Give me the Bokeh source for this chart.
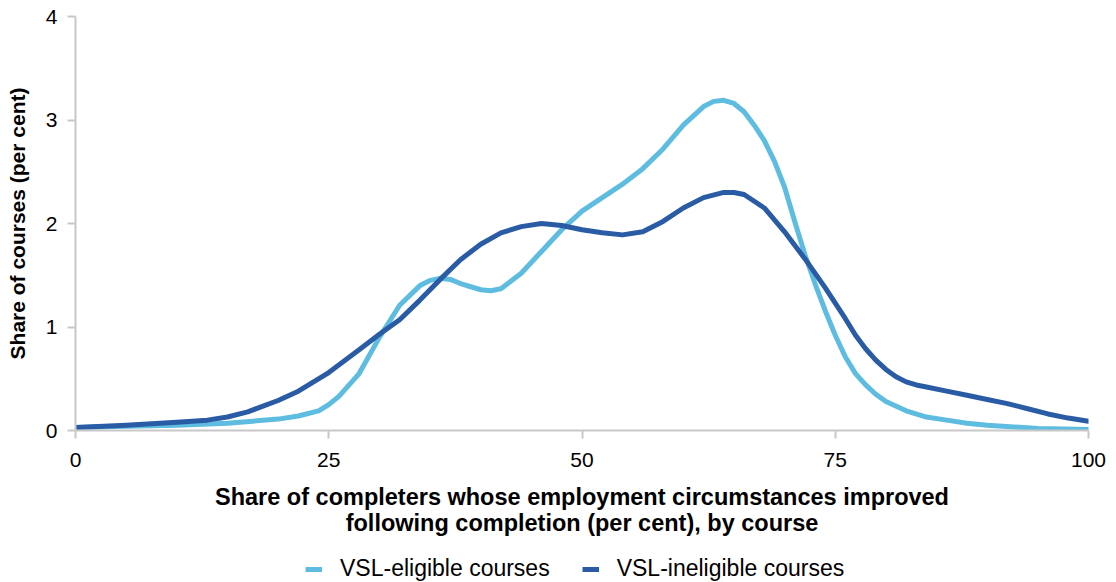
from bokeh.plotting import figure
from bokeh.layouts import column
from bokeh.models import Legend, LegendItem, FixedTicker, Range1d
from bokeh.embed import file_html
from bokeh.resources import INLINE

# Data
x_eligible = [0, 5, 10, 15, 20, 22, 24, 25, 26, 28, 30, 32, 34, 35, 36, 37, 38, 40, 41, 42,
              44, 46, 48, 50, 52, 54, 56, 58, 60, 62, 63, 64, 65, 66, 67, 68, 69, 70, 71,
              72, 73, 74, 75, 76, 77, 78, 79, 80, 82, 84, 86, 88, 90, 95, 100]
y_eligible = [0.03, 0.04, 0.05, 0.07, 0.11, 0.14, 0.19, 0.25, 0.33, 0.55, 0.90, 1.21, 1.40,
              1.45, 1.47, 1.46, 1.42, 1.36, 1.35, 1.37, 1.52, 1.73, 1.94, 2.12, 2.25, 2.38,
              2.53, 2.72, 2.95, 3.13, 3.18, 3.19, 3.16, 3.08, 2.95, 2.80, 2.60, 2.35, 2.02,
              1.70, 1.42, 1.16, 0.92, 0.71, 0.55, 0.44, 0.35, 0.28, 0.19, 0.13, 0.10, 0.07,
              0.05, 0.02, 0.01]

x_ineligible = [0, 5, 10, 13, 15, 17, 20, 22, 25, 28, 30, 32, 34, 36, 38, 40, 42, 44, 46, 48,
                50, 52, 54, 56, 58, 60, 62, 64, 65, 66, 68, 70, 72, 74, 75, 76, 77, 78, 79,
                80, 81, 82, 83, 84, 86, 88, 90, 92, 94, 96, 98, 100]
y_ineligible = [0.03, 0.05, 0.08, 0.10, 0.13, 0.18, 0.29, 0.38, 0.56, 0.78, 0.93, 1.07, 1.26,
                1.46, 1.65, 1.80, 1.91, 1.97, 2.00, 1.98, 1.94, 1.91, 1.89, 1.92, 2.02, 2.15,
                2.25, 2.30, 2.30, 2.28, 2.15, 1.92, 1.66, 1.38, 1.23, 1.08, 0.92, 0.79, 0.68,
                0.59, 0.52, 0.47, 0.44, 0.42, 0.38, 0.34, 0.30, 0.26, 0.21, 0.16, 0.12, 0.09]

series_names = ["VSL-eligible courses", "VSL-ineligible courses"]
x_ticks = [0, 25, 50, 75, 100]
y_ticks = [0, 1, 2, 3, 4]

FONT = "Liberation Sans"
LIGHT = "#5dbcdf"
DARK = "#2a5ca6"
AXIS = "#c8c8c8"

p = figure(width=1108, height=540, output_backend="svg", toolbar_location=None,
           x_range=(0, 100), y_range=(0, 4),
           min_border_left=75, min_border_right=20, min_border_top=16, min_border_bottom=110)
p.outline_line_color = None
p.grid.grid_line_color = None
p.background_fill_color = "white"
p.border_fill_color = "white"

p.line(x_eligible, y_eligible, line_color=LIGHT, line_width=5, line_join="round", line_cap="round")
p.line(x_ineligible, y_ineligible, line_color=DARK, line_width=5, line_join="round", line_cap="round")

for ax in (p.xaxis[0], p.yaxis[0]):
    ax.axis_line_color = AXIS
    ax.axis_line_width = 2
    ax.major_tick_line_color = AXIS
    ax.major_tick_line_width = 2
    ax.major_tick_out = 8
    ax.major_tick_in = 0
    ax.minor_tick_line_color = None
    ax.major_label_text_font = FONT
    ax.major_label_text_font_size = "21px"
    ax.major_label_text_color = "#000000"
    ax.axis_label_text_font = FONT
    ax.axis_label_text_font_style = "bold"
    ax.axis_label_text_color = "#000000"

p.xaxis.axis_label_text_font_size = "23.5px"
p.xaxis.axis_label_text_line_height = 1.0
p.yaxis.axis_label_text_font_size = "21px"
p.xaxis.ticker = FixedTicker(ticks=x_ticks)
p.yaxis.ticker = FixedTicker(ticks=y_ticks)
p.xaxis.major_label_standoff = 14
p.yaxis.major_label_standoff = 10
p.xaxis.axis_label = "Share of completers whose employment circumstances improved\nfollowing completion (per cent), by course"
p.yaxis.axis_label = "Share of courses (per cent)"
p.xaxis.axis_label_standoff = 14
p.yaxis.axis_label_standoff = 14

# Legend strip below the chart (series drawn out of view, only the legend shows)
lg = figure(width=1108, height=42, output_backend="svg", toolbar_location=None,
            x_axis_location=None, y_axis_location=None,
            x_range=Range1d(0, 100), y_range=Range1d(10, 11),
            min_border_left=0, min_border_right=0, min_border_top=0, min_border_bottom=0)
lg.outline_line_color = None
lg.grid.visible = False
l1 = lg.line(x_eligible, y_eligible, line_color=LIGHT, line_width=5)
l2 = lg.line(x_ineligible, y_ineligible, line_color=DARK, line_width=5)

legend = Legend(items=[LegendItem(label=series_names[0], renderers=[l1]),
                       LegendItem(label=series_names[1], renderers=[l2])],
                orientation="horizontal", location=(230, 0),
                label_text_font=FONT, label_text_font_size="23px", label_text_color="#000000",
                label_height=22, glyph_height=22,
                glyph_width=17, label_standoff=18, spacing=32,
                border_line_color=None, background_fill_alpha=0, margin=0, padding=3)
lg.add_layout(legend, "center")

layout = column(p, lg, spacing=0)
open("out.html", "w").write(file_html(layout, INLINE))
